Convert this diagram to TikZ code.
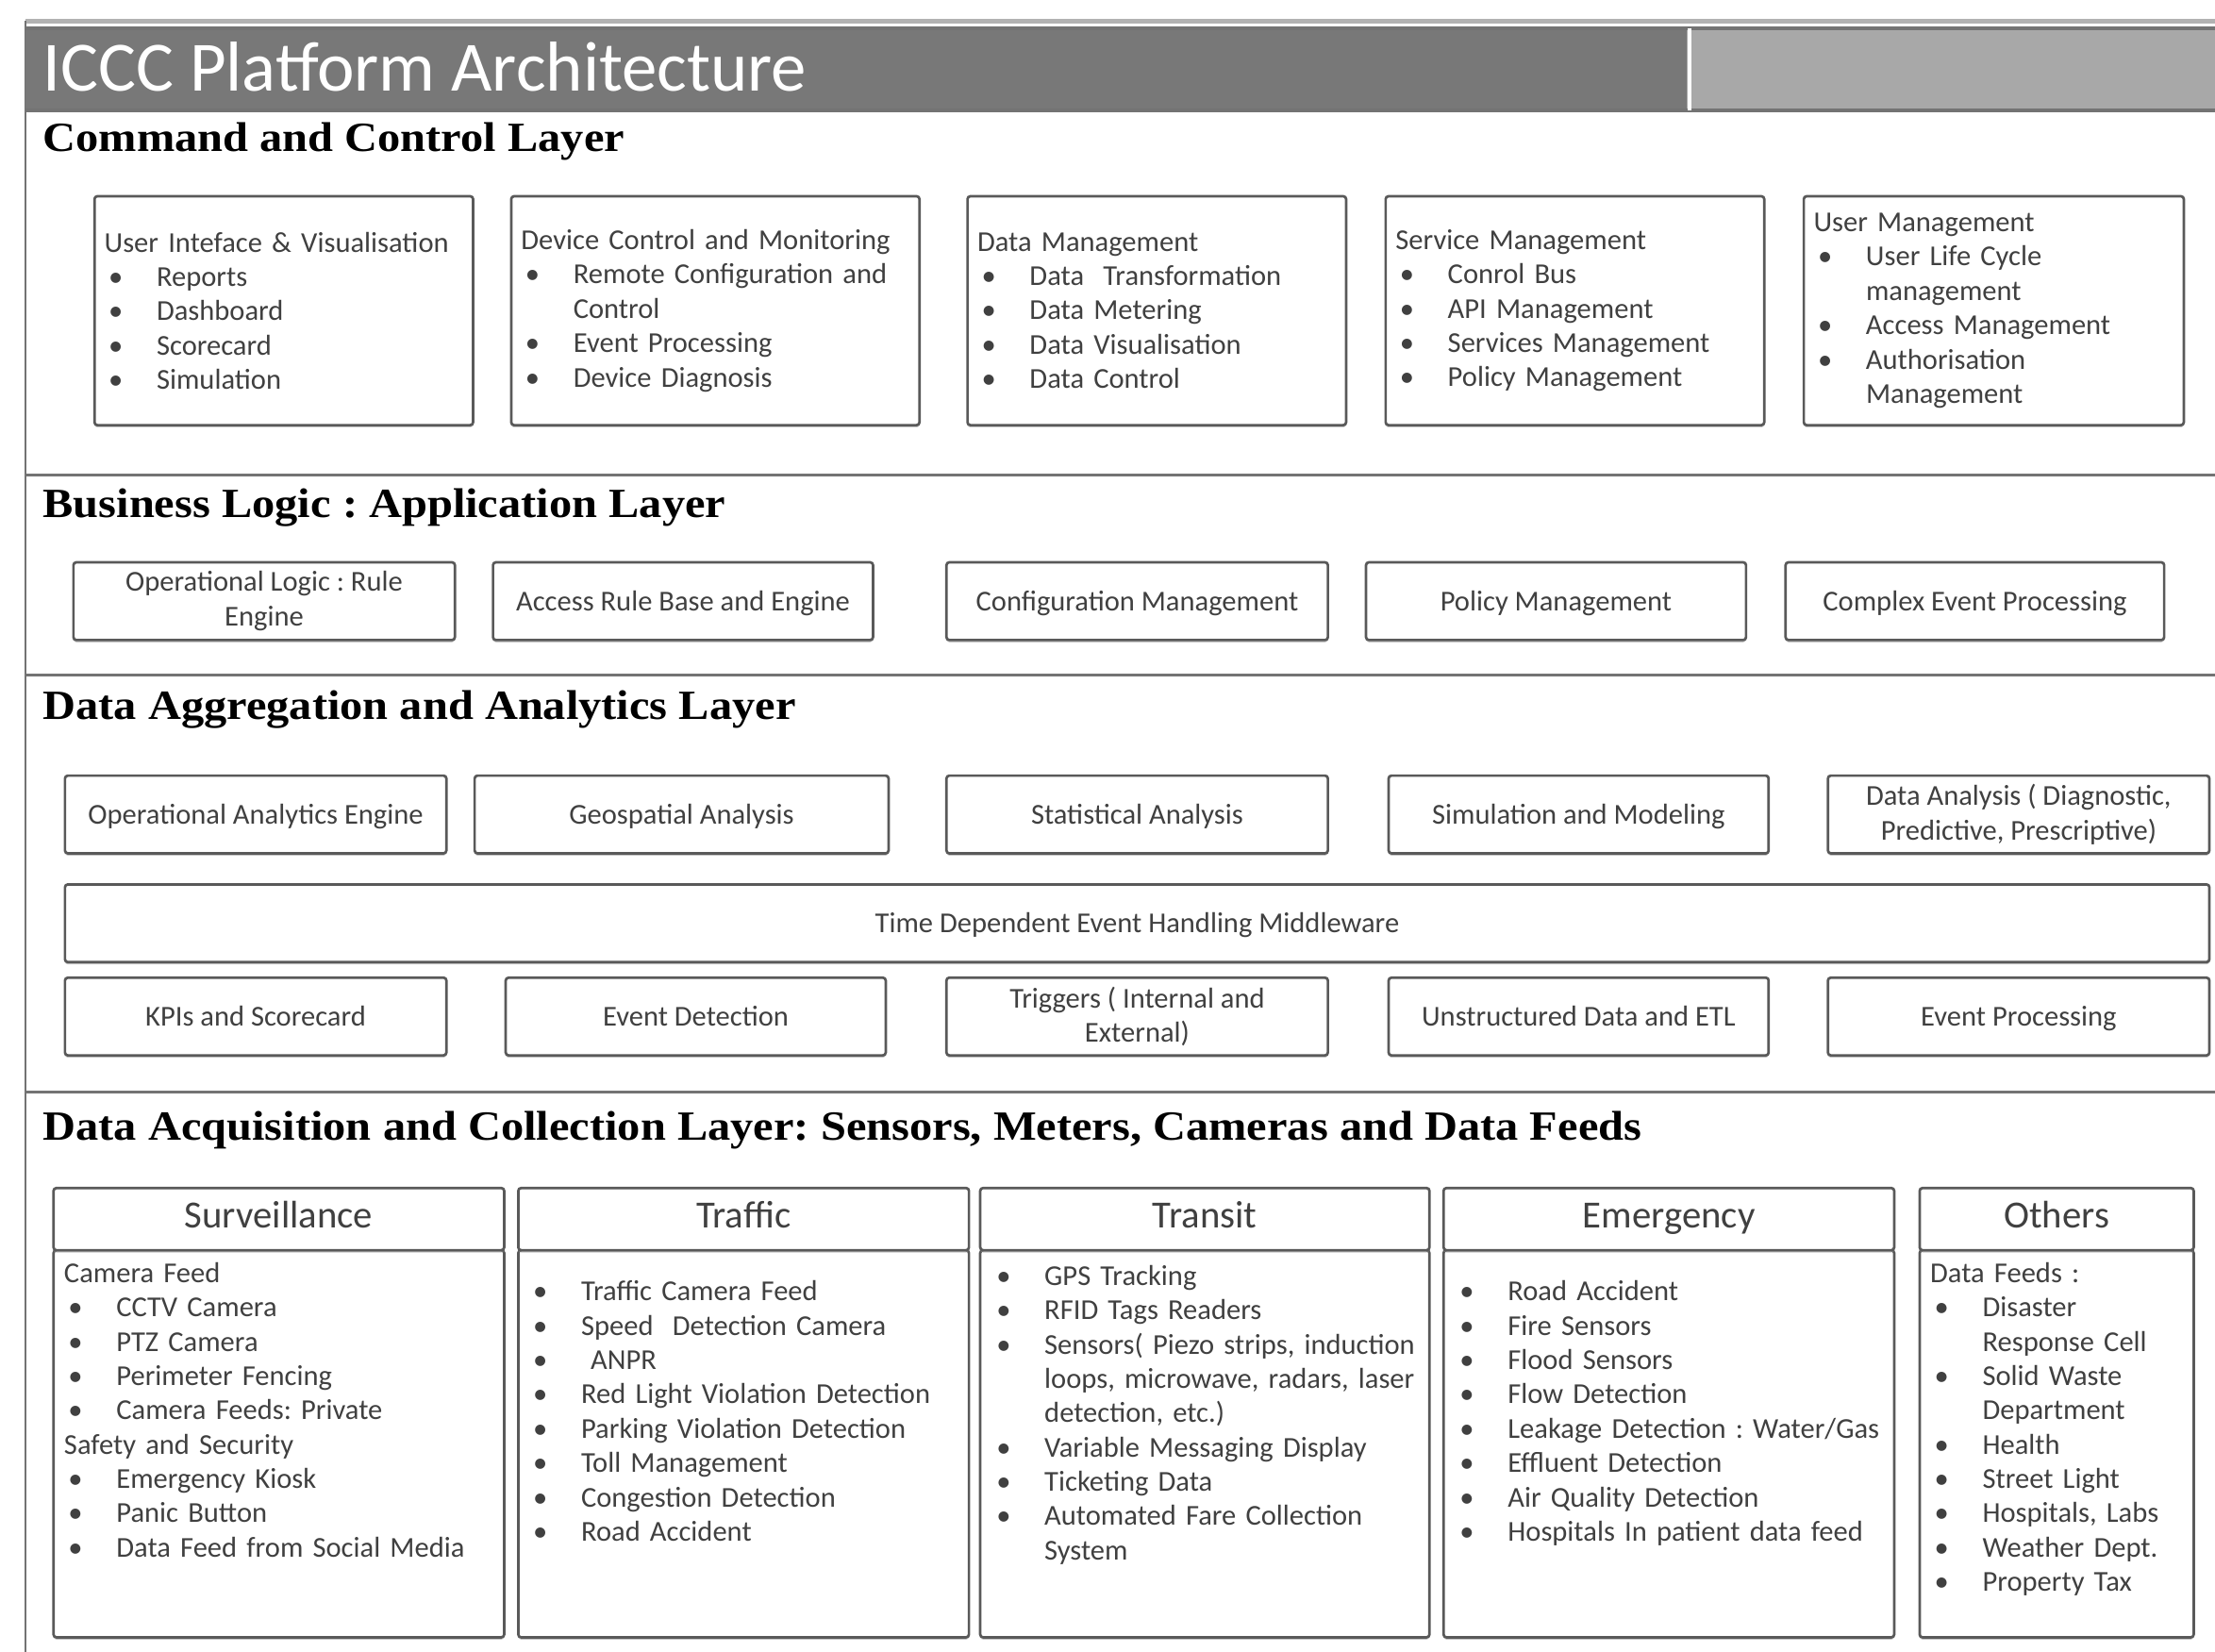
\documentclass[tikz,border=0pt]{standalone}
\usepackage{fontspec}
\setmainfont{Carlito}
\newfontfamily\layerfont[FakeStretch=1.1]{Liberation Serif}
\usepackage{tikz}
\usetikzlibrary{shapes, calc, positioning, shadows}

\definecolor{banddark}{gray}{0.47}
\definecolor{bandlight}{gray}{0.66}
\definecolor{boxline}{gray}{0.35}
\definecolor{boxtext}{gray}{0.25}
\definecolor{frameline}{gray}{0.45}

\hyphenpenalty=10000
\exhyphenpenalty=10000
\frenchspacing

% bullet item with hanging indent, and a plain line
\newcommand{\itm}{\par\hangindent=18.5pt\hangafter=1\noindent\makebox[18.5pt][l]{\hspace{1.5pt}\textbullet}}
\newcommand{\txt}{\par\noindent}

\begin{document}
\begin{tikzpicture}[x=0.5pt,y=-0.5pt,
	body/.style={font=\fontsize{10.2}{12.15}\selectfont, text=boxtext},
	box/.style={body, draw=boxline, line width=0.9pt, rounded corners=1pt, fill=white,
		drop shadow={shadow xshift=0pt, shadow yshift=-0.8pt, fill=black!45}},
	ccbox/.style={box, anchor=north west, align=left, inner xsep=3.5pt, inner ysep=0pt, text width=#1, minimum height=81pt},
	smallbox/.style={box, align=center, inner sep=1pt, minimum width=#1, minimum height=27.5pt},
	onebox/.style={smallbox=#1, text height=10pt, text depth=3.2pt},
	headbox/.style={box, anchor=north west, minimum width=#1, minimum height=22pt, text height=9.5pt, text depth=3pt,
		font=\fontsize{13.6}{16}\selectfont},
	listbox/.style={box, anchor=north west, minimum width=#1, minimum height=137pt},
	listtext/.style={body, anchor=north west, align=left, inner sep=0pt, text width=200pt},
	layer/.style={anchor=west, inner sep=0pt, font=\layerfont\bfseries\fontsize{14.7}{17}\selectfont}]

	\useasboundingbox (0,0) rectangle (1568,1169);

	% frame and title band
	\draw[gray!60, line width=1.5pt] (18,15) -- (1568,15);
	\draw[frameline, line width=0.8pt] (18,15) -- (18,1169);
	\fill[bandlight] (18,19) rectangle (1568,79);
	\fill[banddark] (18,19) rectangle (1194,79);
	\draw[black!55, line width=1.2pt] (18,20) -- (1568,20) (18,78) -- (1568,78);
	\draw[white, line width=1.2pt] (1196,20) -- (1196,78);
	\node[anchor=west, inner sep=0pt, text=white, font=\fontsize{25}{30}\selectfont] (title) at (30,47) {ICCC Platform Architecture};

	% layer separators
	\draw[frameline, line width=1pt] (18,336) -- (1568,336);
	\draw[frameline, line width=1pt] (18,478) -- (1568,478);
	\draw[frameline, line width=1pt] (18,773) -- (1568,773);

	% command and control layer
	\node[layer] (cc) at (30,100) {Command and Control Layer};
	\node[ccbox=127pt] (cc1) at (66,138) {User Inteface \& Visualisation
		\itm Reports
		\itm Dashboard
		\itm Scorecard
		\itm Simulation\par};
	\node[ccbox=137.5pt] (cc2) at (361,138) {Device Control and Monitoring
		\itm Remote Configuration and\newline Control
		\itm Event Processing
		\itm Device Diagnosis\par};
	\node[ccbox=127pt] (cc3) at (684,138) {Data Management
		\itm Data\ \ Transformation
		\itm Data Metering
		\itm Data Visualisation
		\itm Data Control\par};
	\node[ccbox=127pt] (cc4) at (980,138) {Service Management
		\itm Conrol Bus
		\itm API Management
		\itm Services Management
		\itm Policy Management\par};
	\node[ccbox=127.5pt] (cc5) at (1276,138) {User Management
		\itm User Life Cycle\newline management
		\itm Access Management
		\itm Authorisation\newline Management\par};

	% business logic layer
	\node[layer] (bl) at (30,359) {Business Logic : Application Layer};
	\node[smallbox=135pt] (bl1) at (187,425.5) {Operational Logic : Rule\\Engine};
	\node[onebox=134.5pt] (bl2) at (483.5,425.5) {Access Rule Base and Engine};
	\node[onebox=135pt] (bl3) at (805,425.5) {Configuration Management};
	\node[onebox=134.5pt] (bl4) at (1101.5,425.5) {Policy Management};
	\node[onebox=134pt] (bl5) at (1398,425.5) {Complex Event Processing};

	% data aggregation and analytics layer
	\node[layer] (da) at (30,502) {Data Aggregation and Analytics Layer};
	\node[onebox=135pt] (da1) at (181,576.5) {Operational Analytics Engine};
	\node[onebox=146.5pt] (da2) at (482.5,576.5) {Geospatial Analysis};
	\node[onebox=135pt] (da3) at (805,576.5) {Statistical Analysis};
	\node[onebox=134.5pt] (da4) at (1117.5,576.5) {Simulation and Modeling};
	\node[smallbox=135pt] (da5) at (1429,576.5) {Data Analysis ( Diagnostic,\\Predictive, Prescriptive)};
	\node[onebox=759pt] (mw) at (805,653.5) {Time Dependent Event Handling Middleware};
	\node[onebox=135pt] (ev1) at (181,719.5) {KPIs and Scorecard};
	\node[onebox=134.5pt] (ev2) at (492.5,719.5) {Event Detection};
	\node[smallbox=135pt] (ev3) at (805,719.5) {Triggers ( Internal and\\External)};
	\node[onebox=134.5pt] (ev4) at (1117.5,719.5) {Unstructured Data and ETL};
	\node[onebox=135pt] (ev5) at (1429,719.5) {Event Processing};

	% data acquisition and collection layer
	\node[layer] (dq) at (30,800) {Data Acquisition and Collection Layer: Sensors, Meters, Cameras and Data Feeds};

	\node[listbox=159.5pt] (sv) at (37,884) {};
	\node[headbox=159.5pt] (svh) at (37,840) {Surveillance};
	\node[listtext] (svt) at (45,883) {\txt Camera Feed
		\itm CCTV Camera
		\itm PTZ Camera
		\itm Perimeter Fencing
		\itm Camera Feeds: Private
		\txt Safety and Security
		\itm Emergency Kiosk
		\itm Panic Button
		\itm Data Feed from Social Media\par};

	\node[listbox=159.5pt] (tf) at (366,884) {};
	\node[headbox=159.5pt] (tfh) at (366,840) {Traffic};
	\node[listtext] (tft) at (374,896) {\itm Traffic Camera Feed
		\itm Speed\ \ Detection Camera
		\itm \ ANPR
		\itm Red Light Violation Detection
		\itm Parking Violation Detection
		\itm Toll Management
		\itm Congestion Detection
		\itm Road Accident\par};

	\node[listbox=159pt] (ts) at (693,884) {};
	\node[headbox=159pt] (tsh) at (693,840) {Transit};
	\node[listtext] (tst) at (702,885) {\itm GPS Tracking
		\itm RFID Tags Readers
		\itm Sensors( Piezo strips, induction\newline loops, microwave, radars, laser\newline detection, etc.)
		\itm Variable Messaging Display
		\itm Ticketing Data
		\itm Automated Fare Collection\newline System\par};

	\node[listbox=159.5pt] (em) at (1021,884) {};
	\node[headbox=159.5pt] (emh) at (1021,840) {Emergency};
	\node[listtext] (emt) at (1030,896) {\itm Road Accident
		\itm Fire Sensors
		\itm Flood Sensors
		\itm Flow Detection
		\itm Leakage Detection : Water/Gas
		\itm Effluent Detection
		\itm Air Quality Detection
		\itm Hospitals In patient data feed\par};

	\node[listbox=97pt] (ot) at (1358,884) {};
	\node[headbox=97pt] (oth) at (1358,840) {Others};
	\node[listtext] (ott) at (1366,883) {\txt Data Feeds :
		\itm Disaster\newline Response Cell
		\itm Solid Waste\newline Department
		\itm Health
		\itm Street Light
		\itm Hospitals, Labs
		\itm Weather Dept.
		\itm Property Tax\par};
\end{tikzpicture}
\end{document}
